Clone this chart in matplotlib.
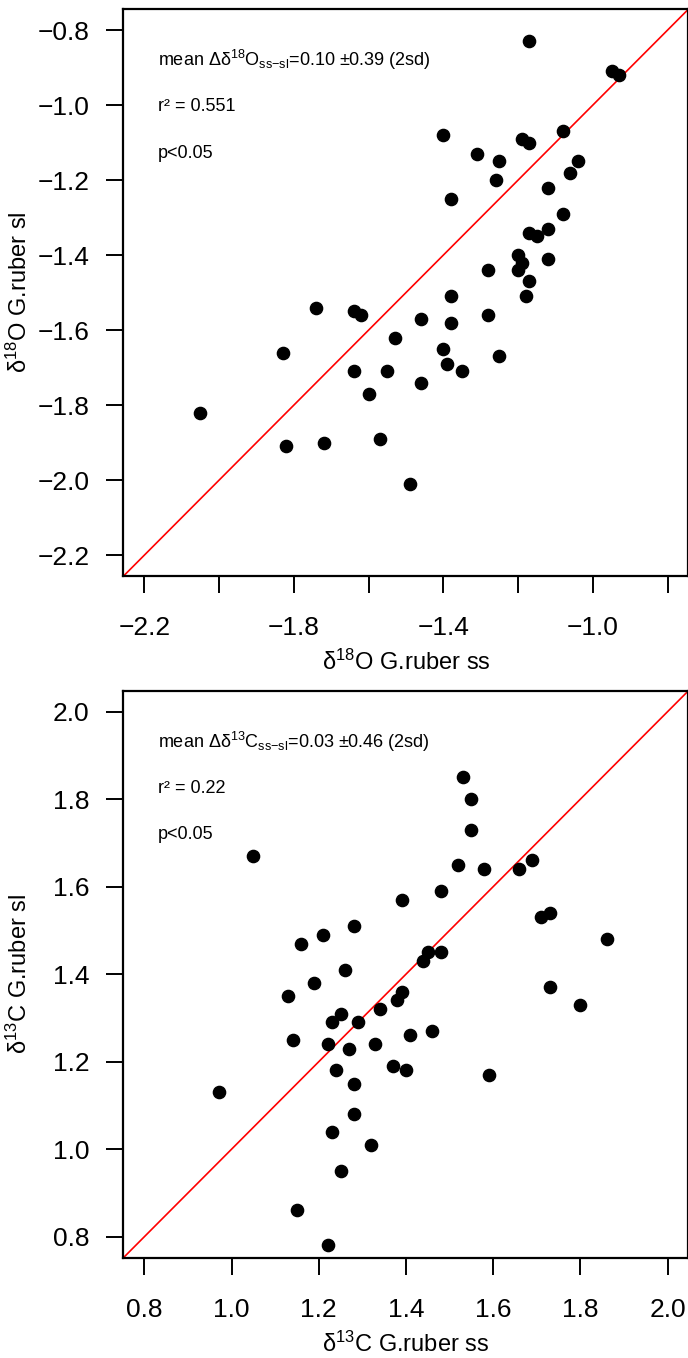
"""
G. ruber sensu stricto vs sensu lato: paired d18O and d13C scatter plots
with a 1:1 reference line.
"""

import matplotlib
matplotlib.use("Agg")
import matplotlib.pyplot as plt

# ── Data ──────────────────────────────────────────────────────────────────────
d18o_ss = [-1.17, -0.95, -0.93, -1.40, -1.31, -1.25, -1.26, -1.38, -1.19, -1.17,
           -1.08, -1.04, -1.06, -1.12, -1.08, -1.17, -1.15, -1.12, -1.20, -1.19,
           -1.20, -1.28, -1.12, -1.17, -1.38, -1.18, -1.74, -1.64, -1.62, -1.46,
           -1.38, -1.28, -1.53, -1.83, -1.40, -1.39, -1.25, -1.64, -1.55, -1.35,
           -1.46, -1.60, -2.05, -1.82, -1.72, -1.57, -1.49]
d18o_sl = [-0.83, -0.91, -0.92, -1.08, -1.13, -1.15, -1.20, -1.25, -1.09, -1.10,
           -1.07, -1.15, -1.18, -1.22, -1.29, -1.34, -1.35, -1.33, -1.40, -1.42,
           -1.44, -1.44, -1.41, -1.47, -1.51, -1.51, -1.54, -1.55, -1.56, -1.57,
           -1.58, -1.56, -1.62, -1.66, -1.65, -1.69, -1.67, -1.71, -1.71, -1.71,
           -1.74, -1.77, -1.82, -1.91, -1.90, -1.89, -2.01]

d13c_ss = [1.53, 1.55, 1.55, 1.05, 1.52, 1.58, 1.66, 1.69, 1.48, 1.39,
           1.71, 1.73, 1.28, 1.21, 1.16, 1.86, 1.45, 1.48, 1.44, 1.26,
           1.19, 1.13, 1.73, 1.80, 1.39, 1.38, 1.34, 1.25, 1.23, 1.29,
           1.14, 1.22, 1.33, 1.27, 1.41, 1.46, 1.37, 1.40, 1.24, 1.59,
           0.97, 1.28, 1.28, 1.23, 1.32, 1.25, 1.15, 1.22]
d13c_sl = [1.85, 1.80, 1.73, 1.67, 1.65, 1.64, 1.64, 1.66, 1.59, 1.57,
           1.53, 1.54, 1.51, 1.49, 1.47, 1.48, 1.45, 1.45, 1.43, 1.41,
           1.38, 1.35, 1.37, 1.33, 1.36, 1.34, 1.32, 1.31, 1.29, 1.29,
           1.25, 1.24, 1.24, 1.23, 1.26, 1.27, 1.19, 1.18, 1.18, 1.17,
           1.13, 1.15, 1.08, 1.04, 1.01, 0.95, 0.86, 0.78]

o_ticks = [-2.2, -2.0, -1.8, -1.6, -1.4, -1.2, -1.0, -0.8]
o_xlabels = ["\u22122.2", "", "\u22121.8", "", "\u22121.4", "", "\u22121.0", ""]
o_ylabels = ["\u22122.2", "\u22122.0", "\u22121.8", "\u22121.6", "\u22121.4",
             "\u22121.2", "\u22121.0", "\u22120.8"]
c_ticks = [0.8, 1.0, 1.2, 1.4, 1.6, 1.8, 2.0]
c_labels = ["0.8", "1.0", "1.2", "1.4", "1.6", "1.8", "2.0"]

o_stats = ["mean \u0394\u03b4$^{18}$O$_{\\mathrm{ss{-}sl}}$=0.10 \u00b10.39 (2sd)",
           "r\u00b2 = 0.551", "p<0.05"]
c_stats = ["mean \u0394\u03b4$^{13}$C$_{\\mathrm{ss{-}sl}}$=0.03 \u00b10.46 (2sd)",
           "r\u00b2 = 0.22", "p<0.05"]

# ── Style ─────────────────────────────────────────────────────────────────────
plt.rcParams["font.family"] = ["Liberation Sans", "DejaVu Sans"]
plt.rcParams["mathtext.fontset"] = "custom"
plt.rcParams["mathtext.rm"] = "Liberation Sans"
plt.rcParams["mathtext.it"] = "Liberation Sans:italic"
plt.rcParams["mathtext.bf"] = "Liberation Sans:bold"


def pad_lim(lo, hi):
    # R-style 4% range extension
    ext = (hi - lo) * 0.04
    return lo - ext, hi + ext


def scatter_panel(ax, x, y, ticks, xlabels, ylabels, xlabel, ylabel, stats):
    lim = pad_lim(ticks[0], ticks[-1])
    ax.plot(x, y, "o", color="black", markersize=8.8, zorder=3)
    ax.axline((ticks[0], ticks[0]), (ticks[-1], ticks[-1]), color="red", lw=1.2, zorder=2)
    ax.set_xlim(lim)
    ax.set_ylim(lim)
    ax.set_xticks(ticks)
    ax.set_xticklabels(xlabels)
    ax.set_yticks(ticks)
    ax.set_yticklabels(ylabels)
    ax.tick_params(direction="out", length=12, width=1.4, labelsize=19, color="black")
    ax.tick_params(axis="x", pad=17)
    ax.tick_params(axis="y", pad=12.5)
    for sp in ax.spines.values():
        sp.set_linewidth(1.6)
    ax.set_xlabel(xlabel, fontsize=17)
    ax.set_ylabel(ylabel, fontsize=17)
    ax.xaxis.set_label_coords(0.5, -0.152)
    ax.xaxis.label.set_verticalalignment("center")
    ax.yaxis.set_label_coords(-0.185, 0.5)
    ax.yaxis.label.set_verticalalignment("center")
    for txt, ypos in zip(stats, [0.910, 0.828, 0.746]):
        ax.text(0.061, ypos, txt, transform=ax.transAxes, fontsize=13,
                ha="left", va="center")


# ── Plot ──────────────────────────────────────────────────────────────────────
fig = plt.figure(figsize=(6.88, 13.58), dpi=100)
ax_o = fig.add_axes([0.1795, 0.5758, 0.8212, 0.4175])
ax_c = fig.add_axes([0.1795, 0.0739, 0.8212, 0.4175])

scatter_panel(ax_o, d18o_ss, d18o_sl, o_ticks, o_xlabels, o_ylabels,
              "\u03b4$^{18}$O G.ruber ss", "\u03b4$^{18}$O G.ruber sl", o_stats)
scatter_panel(ax_c, d13c_ss, d13c_sl, c_ticks, c_labels, c_labels,
              "\u03b4$^{13}$C G.ruber ss", "\u03b4$^{13}$C G.ruber sl", c_stats)

fig.savefig("out.png", dpi=100)
